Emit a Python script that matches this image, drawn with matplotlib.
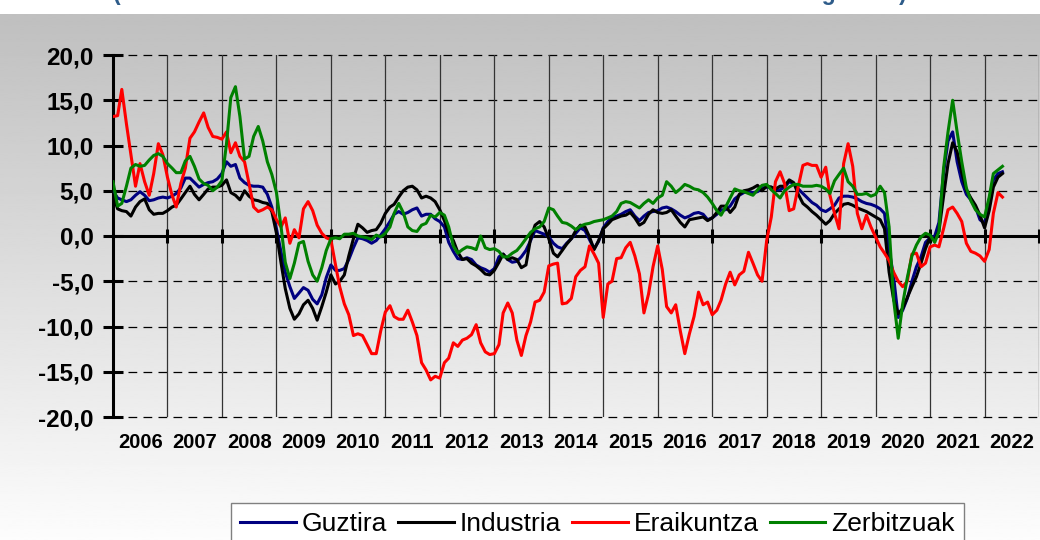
import numpy as np
import pandas as pd
import matplotlib
matplotlib.use("Agg")
import matplotlib.pyplot as plt
from matplotlib.lines import Line2D

# datos mensuales, enero 2006 - mayo 2022
guztira = [
    5.0, 4.2, 4.0, 3.8, 4.0, 4.5, 4.9, 4.5, 3.9, 4.0,
    4.2, 4.3, 4.2, 4.4, 4.7, 5.3, 6.4, 6.4, 5.9, 5.4,
    5.7, 5.9, 6.0, 6.3, 6.9, 8.2, 7.7, 7.9, 6.4, 5.9,
    5.6, 5.5, 5.5, 5.4, 4.6, 3.2, 0.8, -1.8, -4.0, -5.6,
    -6.9, -6.3, -5.7, -6.0, -7.0, -7.5, -6.5, -4.6, -3.2, -3.8,
    -3.8, -3.6, -2.6, -1.3, -0.2, -0.3, -0.5, -0.8, -0.5, 0.1,
    0.8, 1.6, 2.4, 2.7, 2.4, 2.6, 2.9, 3.1, 2.2, 2.4,
    2.4, 1.9, 1.6, 1.0, -0.7, -1.7, -2.5, -2.6, -2.4, -2.6,
    -3.2, -3.5, -3.7, -4.0, -3.6, -2.3, -2.0, -2.6, -2.9, -2.8,
    -2.3, -1.6, -0.5, 0.6, 0.4, 0.2, -0.1, -0.8, -1.2, -1.4,
    -0.8, -0.3, 0.3, 0.9, 0.6, -0.4, -1.4, -0.6, 0.9, 1.6,
    2.0, 2.2, 2.4, 2.7, 2.9, 2.2, 1.7, 2.2, 2.6, 2.7,
    2.8, 3.1, 3.2, 3.0, 2.7, 2.3, 2.0, 2.2, 2.5, 2.6,
    2.4, 1.8, 2.0, 2.4, 2.9, 2.9, 3.3, 4.1, 4.5, 4.8,
    4.9, 4.8, 4.9, 5.3, 5.4, 5.4, 5.1, 5.1, 5.4, 6.0,
    5.8, 5.2, 4.7, 4.2, 3.7, 3.4, 2.9, 2.7, 3.0, 3.4,
    4.2, 4.4, 4.4, 4.3, 4.1, 3.8, 3.6, 3.5, 3.3, 3.0,
    2.5, -1.5, -4.5, -9.0, -8.2, -6.9, -5.0, -3.4, -2.3, -0.7,
    -0.2, 0.0, 1.5, 7.0, 10.5, 11.5, 8.2, 6.0, 4.6, 4.0,
    3.2, 1.8, 1.4, 4.0, 6.2, 6.9, 7.1,
]
industria = [
    4.5, 3.0, 2.8, 2.7, 2.2, 3.2, 3.8, 4.1, 2.9, 2.4,
    2.5, 2.5, 2.8, 3.2, 3.4, 4.1, 4.8, 5.5, 4.6, 4.0,
    4.6, 5.2, 5.4, 5.4, 5.6, 6.2, 4.8, 4.5, 4.0, 5.0,
    4.4, 4.0, 3.9, 3.7, 3.6, 2.7, 0.3, -3.0, -5.8, -8.0,
    -9.2, -8.6, -7.6, -7.1, -8.0, -9.3, -7.8, -6.2, -4.3, -5.3,
    -5.0, -4.3, -2.2, -0.3, 1.3, 0.9, 0.4, 0.6, 0.7, 1.4,
    2.5, 3.2, 3.5, 4.3, 5.0, 5.4, 5.5, 5.1, 4.2, 4.4,
    4.2, 3.8, 2.9, 1.7, 0.3, -0.5, -1.8, -2.6, -2.5, -3.0,
    -3.3, -3.7, -4.2, -4.3, -3.8, -2.9, -2.0, -2.6, -2.4, -2.6,
    -3.5, -3.2, -0.3, 1.2, 1.6, 1.0, -0.3, -1.9, -2.3, -1.6,
    -0.9, -0.3, 0.6, 1.2, 1.0, -0.1, -1.5, -0.5, 0.8, 1.3,
    1.8, 2.0, 2.2, 2.3, 2.6, 2.0, 1.2, 1.5, 2.4, 2.9,
    2.6, 2.5, 2.6, 2.9, 2.2, 1.5, 1.0, 1.8, 1.9, 2.0,
    2.1, 1.7, 2.0, 2.6, 3.3, 3.3, 2.6, 3.2, 4.6, 5.0,
    5.1, 5.3, 5.6, 5.0, 5.5, 5.4, 5.2, 5.5, 5.5, 6.2,
    5.9, 4.6, 3.6, 3.2, 2.7, 2.3, 1.8, 1.3, 1.7, 2.5,
    3.0, 3.5, 3.6, 3.4, 3.1, 2.9, 2.7, 2.4, 2.1, 1.8,
    0.8, -4.0, -7.0, -8.6, -8.0, -6.8, -5.6, -4.5, -3.0, -1.4,
    -0.1, -0.4, 0.5, 4.4, 8.0, 10.3, 9.3, 7.0, 5.1, 4.2,
    3.4, 2.3, 0.9, 2.8, 5.4, 6.5, 6.9,
]
eraikuntza = [
    13.2, 13.3, 16.2, 12.4, 9.0, 5.5, 8.0, 6.0, 4.5, 6.9,
    10.2, 9.0, 6.5, 4.5, 3.2, 5.8, 7.5, 10.8, 11.5, 12.6,
    13.6, 12.0, 11.0, 10.9, 10.7, 11.5, 9.2, 10.3, 8.8, 8.2,
    5.8, 3.2, 2.7, 2.9, 3.2, 2.9, 1.8, 1.0, 2.0, -0.8,
    0.7, -0.2, 3.0, 3.8, 2.8, 1.2, 0.3, -0.2, -0.4, -3.2,
    -5.6, -7.5, -8.7, -11.0, -10.8, -11.0, -12.0, -13.0, -13.0, -10.5,
    -8.4, -7.7, -8.9, -9.2, -9.2, -8.2, -9.5, -11.0, -14.0, -14.8,
    -15.9, -15.5, -15.7, -14.0, -13.5, -11.8, -12.2, -11.5, -11.3, -10.9,
    -9.8, -11.8, -12.8, -13.1, -13.0, -12.0, -8.5, -7.4, -8.5, -11.5,
    -13.2, -11.0, -9.5, -7.3, -7.1, -6.2, -3.3, -3.1, -3.0, -7.5,
    -7.4, -6.9, -4.5, -3.8, -3.4, -1.1, -2.0, -3.0, -9.0, -5.3,
    -5.0, -2.5, -2.4, -1.3, -0.7, -2.2, -4.2, -8.5, -6.4, -3.4,
    -1.1, -3.7, -7.8, -8.5, -7.6, -10.5, -13.0, -10.8, -8.9, -6.2,
    -7.6, -7.3, -8.7, -8.2, -7.1, -5.3, -4.0, -5.4, -4.3, -3.9,
    -1.8, -3.0, -4.3, -5.0, -0.5, 2.1, 6.0, 7.1, 5.8, 2.8,
    3.0, 5.5, 7.8, 8.0, 7.8, 7.8, 6.5, 7.6, 4.5, 2.5,
    0.8, 8.0, 10.2, 7.7, 2.5, 0.8, 2.3, 1.0, -0.1, -1.2,
    -1.9, -2.7, -4.0, -5.0, -5.6, -5.0, -2.0, -1.9, -3.4, -3.0,
    -1.2, -1.0, -1.2, 0.8, 2.9, 3.2, 2.5, 1.6, -0.8, -1.7,
    -1.9, -2.2, -2.8, -1.5, 2.5, 4.8, 4.3,
]
zerbitzuak = [
    6.0, 3.3, 3.6, 5.5, 7.5, 7.9, 7.7, 7.8, 8.4, 8.9,
    9.1, 8.8, 8.0, 7.5, 7.0, 7.0, 8.3, 8.8, 7.7, 6.3,
    5.8, 5.6, 5.0, 5.4, 6.1, 10.2, 15.3, 16.5, 13.2, 8.5,
    8.8, 11.0, 12.1, 10.5, 8.2, 6.8, 4.8, 1.0, -2.9, -4.7,
    -3.0, -0.8, -0.6, -2.8, -4.3, -5.0, -3.5, -1.6, -0.3, -0.2,
    -0.3, 0.2, 0.2, 0.3, 0.0, -0.1, -0.2, -0.4, 0.1, -0.1,
    0.3, 1.0, 2.5, 3.6, 2.6, 1.0, 0.6, 0.5, 1.2, 1.4,
    2.3, 2.1, 2.6, 2.3, 1.0, -1.1, -1.9, -1.5, -1.2, -1.3,
    -1.5, 0.0, -1.3, -1.5, -1.4, -1.7, -2.3, -2.3, -1.9, -1.6,
    -1.0, -0.3, 0.4, 0.8, 1.0, 1.6, 3.1, 2.9, 2.2, 1.5,
    1.4, 1.1, 0.7, 1.1, 1.3, 1.4, 1.6, 1.7, 1.8, 2.0,
    2.2, 2.7, 3.6, 3.8, 3.7, 3.4, 3.1, 3.6, 4.0, 3.6,
    4.2, 4.5, 6.0, 5.5, 4.8, 5.2, 5.7, 5.5, 5.2, 5.1,
    4.8, 4.3, 3.6, 2.8, 2.3, 3.2, 4.2, 5.2, 5.0, 4.9,
    4.7, 4.5, 5.1, 5.6, 5.7, 5.1, 4.7, 4.2, 5.0, 5.4,
    5.7, 5.7, 5.5, 5.5, 5.5, 5.6, 5.5, 5.2, 4.7, 6.1,
    6.8, 7.5, 6.0, 5.5, 4.6, 4.6, 4.7, 4.4, 4.6, 5.5,
    4.8, 1.0, -7.0, -11.3, -7.5, -4.6, -2.2, -1.0, -0.1, 0.3,
    0.1, -0.7, 0.5, 7.5, 11.5, 15.0, 11.5, 8.2, 5.3, 3.9,
    2.9, 2.4, 2.1, 4.3, 6.9, 7.3, 7.7,
]

series_names = ["Guztira", "Industria", "Eraikuntza", "Zerbitzuak"]
series_colors = ["#000080", "#000000", "#ff0000", "#008000"]
years = list(range(2006, 2023))
y_ticks = [-20, -15, -10, -5, 0, 5, 10, 15, 20]
title = "(Urte arteko aldakuntza-tasa %. Hiru hilabeteko batez besteko mugikorra)"

months = pd.date_range("2006-01-01", periods=len(guztira), freq="MS")

plt.rcParams["font.family"] = ["Liberation Sans", "DejaVu Sans"]

fig = plt.figure(figsize=(10.4, 5.4), dpi=100)

# fondo degradado gris -> blanco
bg = fig.add_axes([0, 0, 1, 526 / 540], zorder=0)
grad = np.linspace(0.75, 0.99, 256).reshape(-1, 1)
bg.imshow(grad, aspect="auto", cmap="gray", vmin=0, vmax=1,
          extent=[0, 1, 0, 1], interpolation="bilinear")
bg.axis("off")

# titulo: en el original solo asoma la parte de abajo
fig.text(113 / 1040, 1.0, title, color="#2e5c8a", fontsize=16.5,
         fontweight="bold", ha="left", va="baseline")

ax = fig.add_axes([113 / 1040, 123 / 540, 926 / 1040, 362 / 540], zorder=1)
ax.patch.set_alpha(0)

start = pd.Timestamp("2006-01-01")
end = pd.Timestamp("2023-01-01")
ax.set_xlim(start, end)
ax.set_ylim(-20, 20)

# rejilla horizontal discontinua
for v in y_ticks:
    if v != 0:
        ax.axhline(v, color="black", lw=0.9, ls=(0, (7, 5)), zorder=1, clip_on=False)

# lineas verticales de cada año
year_bounds = [pd.Timestamp(f"{y}-01-01") for y in years[1:]] + [end]
for d in year_bounds:
    ax.axvline(d, color="#333333", lw=0.9, zorder=1)

for vals, name, col in zip([guztira, industria, eraikuntza, zerbitzuak],
                           series_names, series_colors):
    ax.plot(months, vals, color=col, lw=2.2, label=name, zorder=3,
            solid_joinstyle="round")

for s in ["top", "right"]:
    ax.spines[s].set_visible(False)
ax.spines["left"].set_linewidth(2.2)
ax.spines["bottom"].set_position(("data", 0))
ax.spines["bottom"].set_linewidth(2.2)

ax.set_xticks(year_bounds)
ax.tick_params(axis="x", direction="inout", length=10, width=2.2, labelbottom=False)
ax.set_yticks(y_ticks)
ax.set_yticklabels([f"{v:.1f}".replace(".", ",") for v in y_ticks],
                   fontsize=17.5, fontweight="bold")
ax.tick_params(axis="y", direction="inout", length=14, width=2.2, pad=7)

# etiquetas de año centradas en cada año
tr = ax.get_xaxis_transform()
for y in years:
    ax.text(pd.Timestamp(f"{y}-07-02"), -0.043, str(y), transform=tr,
            ha="center", va="top", fontsize=14.5, fontweight="bold")

handles = [Line2D([], [], color=c, lw=2.2) for c in series_colors]
leg = fig.legend(handles, series_names, loc="upper center",
                 bbox_to_anchor=(597.5 / 1040, 1 - 503 / 540), ncol=4,
                 frameon=True, fancybox=False, edgecolor="#808080",
                 facecolor="white", framealpha=1, fontsize=19,
                 handlelength=2.1, handletextpad=0.23, columnspacing=0.42,
                 borderpad=0.34, borderaxespad=0)
leg.get_frame().set_linewidth(1.0)

fig.savefig("out.png", dpi=100)
